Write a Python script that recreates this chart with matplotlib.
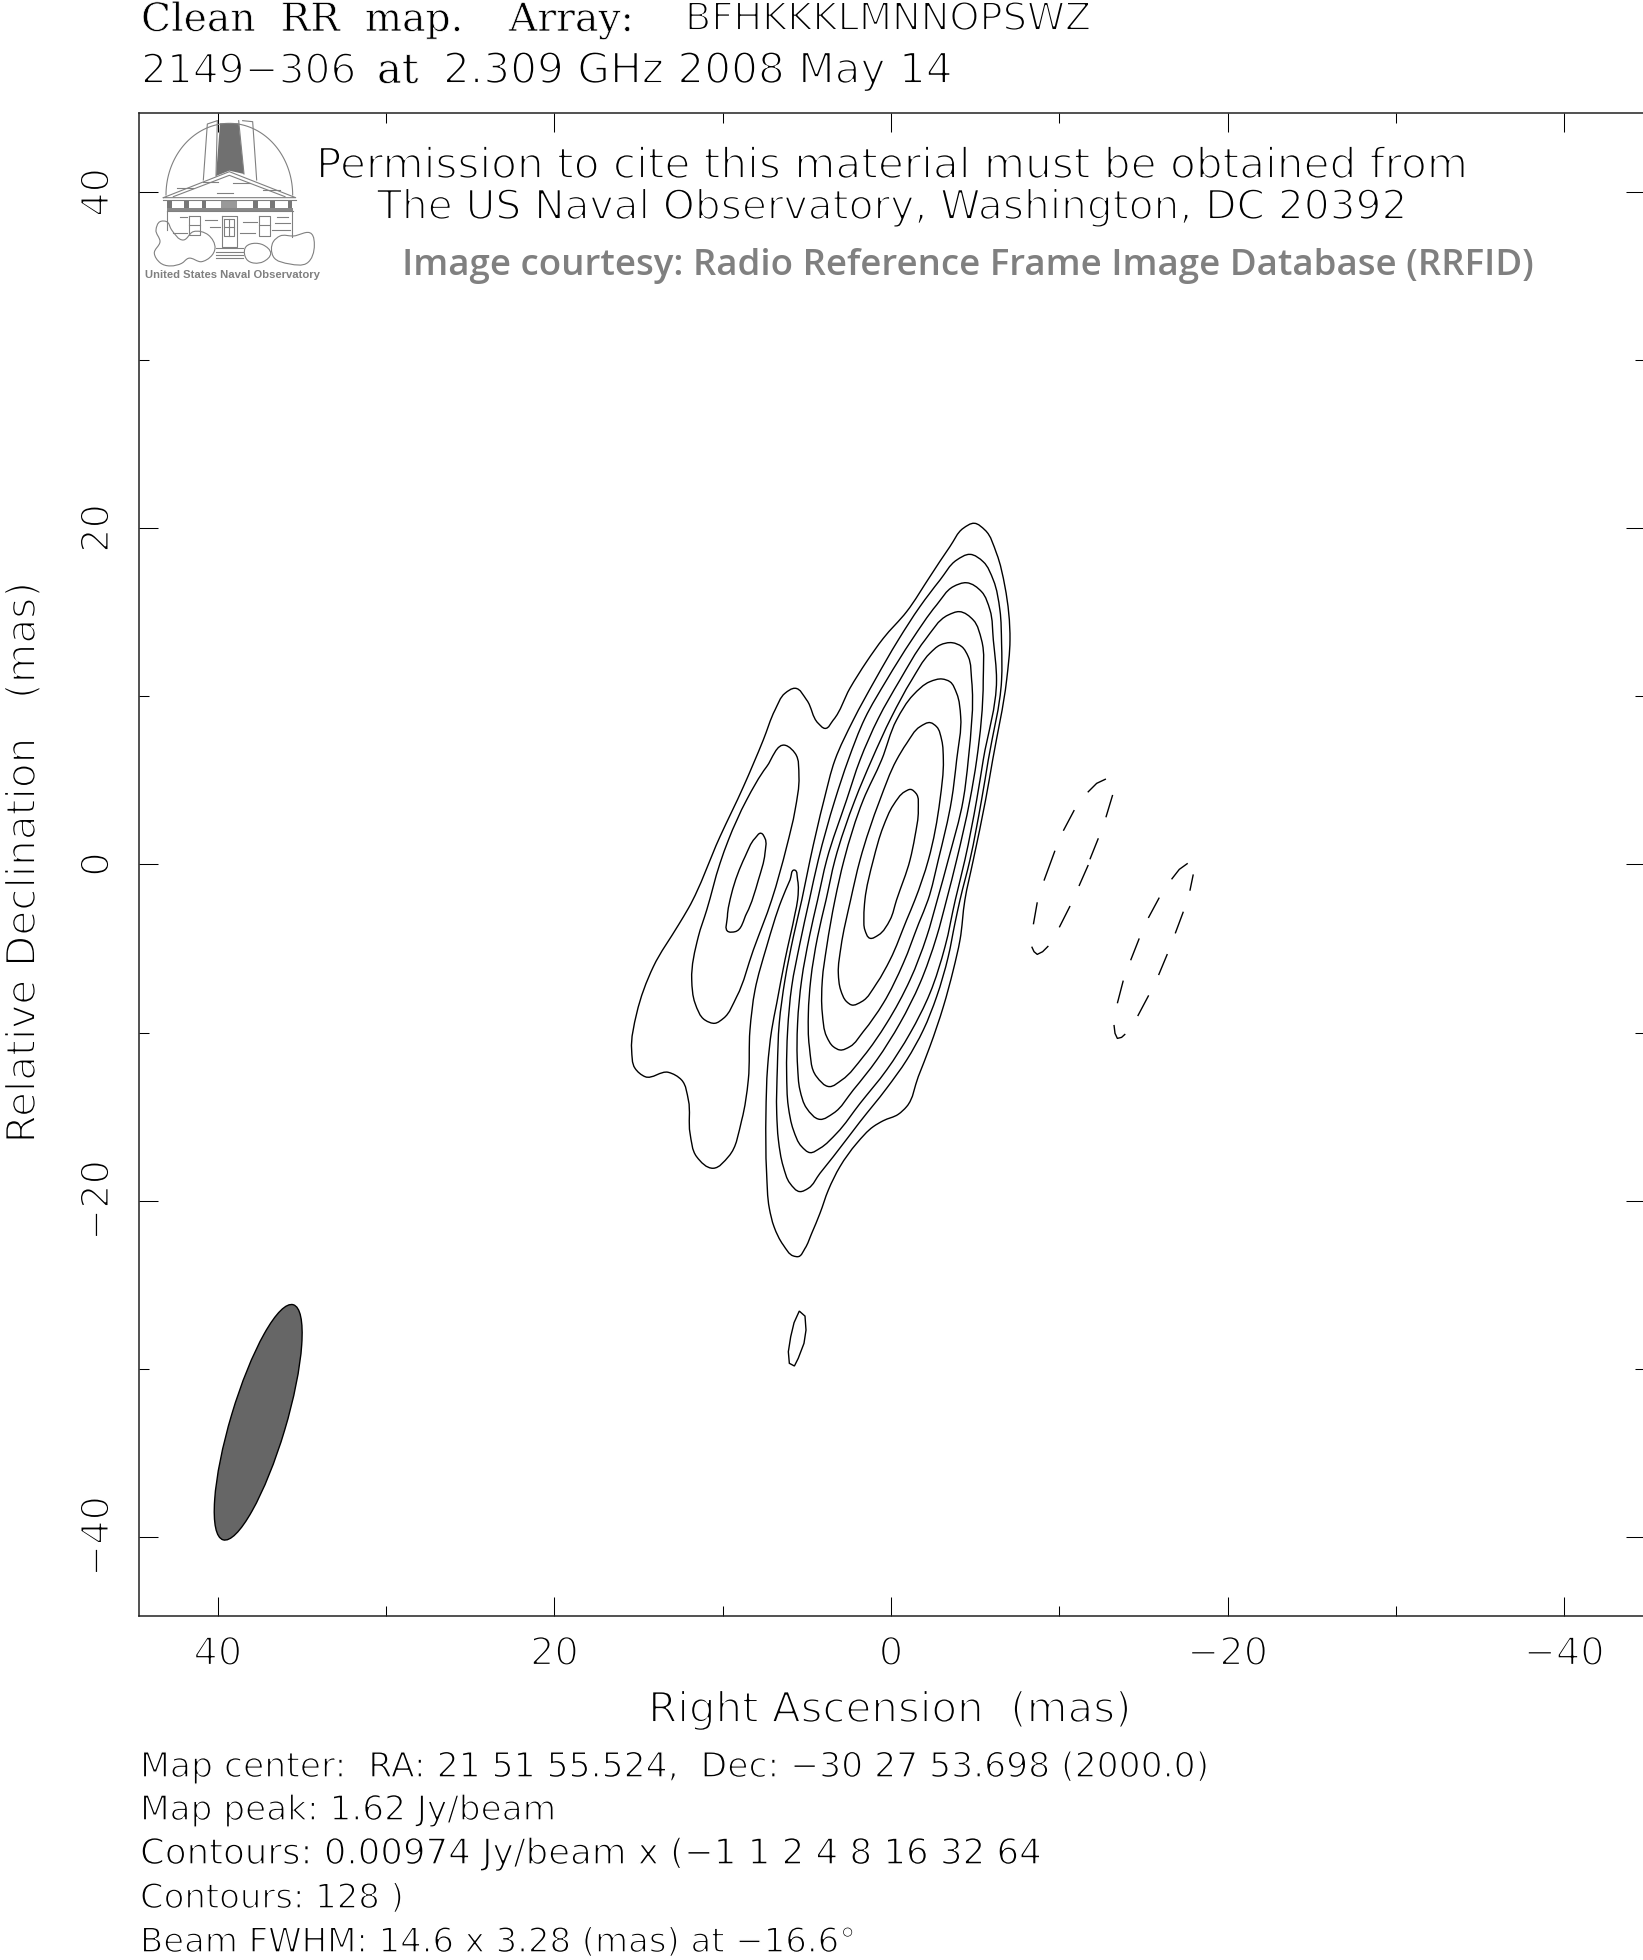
import numpy as np
import matplotlib
matplotlib.use("Agg")
import matplotlib.pyplot as plt
import matplotlib.patheffects as pe
from matplotlib.path import Path
from matplotlib.patches import PathPatch, Ellipse, Polygon

W, H = 1643, 1960

# ---- values (RA offset mas, Dec offset mas) ----
contour_1 = [(-4.95,20.31),(-4.29,20.01),(-3.50,18.92),(-2.31,17.13),(-0.93,15.05),(0.46,13.46),(1.45,12.07),(2.44,10.49),(3.43,8.60),(3.92,8.10),(4.32,8.40),(5.01,9.79),(5.70,10.49),(6.30,10.19),(6.89,9.20),(7.59,7.41),(8.77,4.63),(10.16,1.66),(12.04,-2.61),(12.63,-3.60),(14.12,-6.08),(15.11,-8.86),(15.41,-11.04),(15.21,-12.13),(14.61,-12.63),(13.23,-12.37),(12.44,-12.83),(12.04,-14.02),(11.94,-16.00),(11.55,-17.39),(10.56,-18.08),(9.66,-17.39),(8.87,-15.21),(8.48,-12.83),(8.38,-9.85),(8.08,-7.47),(7.39,-4.89),(6.50,-2.11),(6.00,-0.92),(5.74,-0.33),(5.55,-0.92),(5.55,-2.11),(5.70,-2.91),(6.30,-5.68),(6.79,-8.26),(7.09,-9.85),(7.33,-12.03),(7.43,-14.81),(7.39,-18.38),(7.23,-20.46),(6.95,-21.56),(6.40,-22.65),(5.80,-23.30),(5.51,-23.34),(5.11,-22.85),(4.71,-21.95),(4.22,-20.76),(3.72,-19.37),(3.03,-17.98),(2.04,-16.60),(1.05,-15.60),(0.46,-15.25),(-0.43,-14.87),(-0.93,-14.41),(-1.62,-12.63),(-2.31,-10.84),(-3.11,-8.46),(-3.70,-6.28),(-4.10,-4.49),(-4.39,-2.11),(-4.89,0.27),(-5.62,3.84),(-6.04,6.22),(-6.87,10.98),(-7.07,13.36),(-6.77,16.54),(-6.27,18.52),(-5.58,19.91)]
contour_2 = [(-4.69,18.46),(-3.90,18.12),(-2.91,16.93),(-1.72,15.35),(-0.43,13.36),(0.95,10.98),(2.24,8.60),(3.33,6.22),(3.98,3.84),(4.81,0.27),(5.30,-2.11),(5.80,-4.30),(6.30,-6.87),(6.64,-9.45),(6.75,-12.03),(6.79,-14.81),(6.69,-16.40),(6.40,-17.98),(6.00,-18.98),(5.41,-19.47),(4.91,-19.27),(4.22,-18.38),(3.43,-17.39),(1.84,-15.31),(0.26,-13.32),(-0.93,-11.64),(-1.92,-9.85),(-2.71,-7.87),(-3.40,-5.49),(-3.80,-3.50),(-4.10,-2.11),(-4.69,0.27),(-5.38,3.84),(-5.78,6.22),(-6.57,10.98),(-6.57,13.16),(-6.47,15.15),(-6.08,16.93),(-5.48,18.02)]
contour_3 = [(-4.49,16.77),(-3.70,16.54),(-2.71,15.45),(-1.23,13.36),(0.26,10.98),(1.55,8.70),(2.54,6.22),(3.33,3.84),(4.32,0.27),(4.85,-2.11),(5.41,-4.69),(5.90,-7.27),(6.14,-9.85),(6.20,-12.43),(6.10,-14.41),(5.80,-15.80),(5.31,-16.79),(4.81,-17.15),(4.22,-16.89),(3.23,-16.00),(1.84,-14.22),(0.26,-12.23),(-1.13,-10.05),(-2.31,-7.67),(-3.21,-4.89),(-3.82,-2.11),(-4.39,0.27),(-5.09,3.84),(-5.48,6.22),(-6.27,10.98),(-6.08,13.36),(-5.88,15.15),(-5.38,16.24)]
contour_4 = [(-4.06,15.05),(-3.40,14.85),(-2.02,13.36),(-0.53,10.98),(0.75,8.70),(1.84,6.22),(2.64,3.84),(3.82,0.27),(4.36,-2.11),(4.85,-4.30),(5.31,-6.87),(5.55,-9.45),(5.55,-12.03),(5.41,-13.42),(5.01,-14.51),(4.22,-15.17),(3.43,-14.81),(2.24,-13.42),(0.85,-11.64),(-0.53,-9.45),(-1.72,-7.07),(-2.71,-4.30),(-3.30,-2.11),(-3.90,0.27),(-4.69,3.84),(-5.09,6.22),(-5.48,10.98),(-5.38,13.36),(-4.89,14.55)]
contour_5 = [(-3.64,13.20),(-2.91,13.06),(-2.31,12.57),(-1.23,10.98),(-0.04,8.80),(1.15,6.22),(2.14,3.84),(3.33,0.27),(3.86,-2.11),(4.36,-4.30),(4.77,-6.87),(4.91,-8.86),(4.85,-10.84),(4.42,-12.63),(3.67,-13.22),(2.93,-12.83),(1.65,-11.44),(0.26,-9.45),(-1.13,-6.87),(-2.12,-4.30),(-2.75,-2.11),(-3.40,0.27),(-4.29,3.84),(-4.59,6.22),(-4.79,10.98),(-4.59,12.37),(-4.20,12.97)]
contour_6 = [(-3.05,11.04),(-2.31,10.88),(-1.32,10.09),(-0.33,8.60),(0.56,6.22),(1.65,3.84),(2.79,0.27),(3.33,-2.11),(3.82,-4.89),(4.08,-6.87),(4.08,-8.86),(3.82,-10.25),(3.43,-10.84),(3.03,-11.04),(2.44,-10.84),(1.65,-9.95),(0.46,-8.26),(-0.73,-5.88),(-1.65,-3.50),(-2.20,-2.11),(-2.81,0.27),(-3.60,3.84),(-3.90,6.22),(-4.14,8.80),(-3.90,10.19),(-3.50,10.88)]
contour_7 = [(-2.35,8.44),(-1.72,8.20),(-0.93,7.21),(-0.33,6.22),(0.66,3.84),(1.84,0.27),(2.40,-2.11),(2.97,-4.89),(3.13,-6.48),(2.99,-7.47),(2.64,-8.16),(2.34,-8.36),(1.74,-8.16),(0.85,-7.07),(0.06,-5.68),(-0.93,-3.30),(-1.42,-2.11),(-2.22,0.27),(-2.91,3.84),(-3.11,6.22),(-3.01,7.41),(-2.71,8.20)]
contour_8 = [(-1.17,4.47),(-0.83,4.34),(-0.14,3.54),(0.46,2.25),(1.05,0.27),(1.55,-2.11),(1.61,-3.10),(1.55,-3.90),(1.25,-4.39),(0.75,-4.20),(0.06,-3.30),(-0.33,-2.11),(-1.13,0.27),(-1.42,1.66),(-1.62,3.24),(-1.48,4.24)]
lobe_2 = [(6.26,7.09),(7.39,5.82),(8.58,3.84),(9.66,1.46),(10.16,0.07),(10.95,-2.71),(11.45,-4.30),(11.84,-6.87),(11.64,-8.26),(11.05,-9.26),(10.46,-9.45),(9.96,-9.16),(9.17,-7.87),(8.18,-5.09),(7.09,-2.11),(6.20,1.06),(5.70,3.24),(5.47,5.23),(5.70,6.62)]
lobe_3 = [(7.72,1.86),(7.49,1.56),(7.49,0.66),(7.88,-0.92),(8.58,-2.91),(9.27,-4.00),(9.66,-4.00),(9.72,-3.10),(9.47,-1.72),(8.67,0.47),(8.08,1.56)]
small_island = [(5.45,-26.58),(5.11,-26.88),(5.05,-27.71),(5.17,-28.50),(5.51,-29.39),(5.74,-29.85),(6.04,-29.69),(6.10,-29.00),(5.96,-28.11),(5.76,-27.27)]
negative_dashes_a = [
    [(-11.69,4.30),(-12.22,4.83),(-12.77,5.09)],
    [(-13.17,4.14),(-12.77,2.81)],
    [(-12.32,1.56),(-11.82,0.31)],
    [(-11.72,-0.03),(-11.17,-1.28)],
    [(-10.64,-2.47),(-10.00,-3.74)],
    [(-9.35,-4.85),(-9.01,-5.19),(-8.69,-5.35),(-8.50,-5.19),(-8.36,-4.89)],
    [(-8.46,-3.56),(-8.69,-2.25)],
    [(-9.09,-0.96),(-9.74,0.82)],
    [(-10.24,2.01),(-10.89,3.24)],
]
negative_dashes_b = [
    [(-16.67,-0.88),(-17.13,-0.29),(-17.63,0.07)],
    [(-17.96,-0.59),(-17.76,-1.56)],
    [(-17.37,-2.81),(-16.89,-4.10)],
    [(-16.42,-5.33),(-15.90,-6.58)],
    [(-15.31,-7.79),(-14.66,-9.02)],
    [(-13.92,-10.09),(-13.70,-10.29),(-13.45,-10.35),(-13.31,-10.05),(-13.25,-9.55)],
    [(-13.45,-8.26),(-13.80,-6.91)],
    [(-14.24,-5.70),(-14.75,-4.40)],
    [(-15.29,-3.18),(-15.94,-1.97)],
]
beam_center = (37.6, -33.2)
beam_major = 14.6
beam_minor = 3.28
beam_pa = 16.6
major_ticks = [40, 20, 0, -20, -40]
minor_ticks = [30, 10, -10, -30]

lines_bottom = [
    "Map center:  RA: 21 51 55.524,  Dec: \u221230 27 53.698 (2000.0)",
    "Map peak: 1.62 Jy/beam",
    "Contours: 0.00974 Jy/beam x (\u22121 1 2 4 8 16 32 64",
    "Contours: 128 )",
    "Beam FWHM: 14.6 x 3.28 (mas) at \u221216.6\u00b0",
]

# ---- figure ----
fig = plt.figure(figsize=(W/100, H/100), dpi=100, facecolor="white")
L, R, T, B = 138.7, 1644.5, 113.0, 1616.0
ax = fig.add_axes([L/W, 1-B/H, (R-L)/W, (B-T)/H])
ax.set_xlim((891-L)/16.83, (891-R)/16.83)
ax.set_ylim(-44.73, 44.73)

thin_big = [pe.Stroke(linewidth=1.4, foreground="white")]
thin_small = [pe.Stroke(linewidth=1.05, foreground="white")]
thin_serif = [pe.Stroke(linewidth=0.55, foreground="white")]


def smooth_path(points):
    p = np.asarray(points, float)
    n = len(p)
    verts = [p[0]]
    codes = [Path.MOVETO]

    def tangent(i):
        a, b, c = p[i-1], p[i], p[(i+1) % n]
        l0, l1 = np.linalg.norm(b-a), np.linalg.norm(c-b)
        t = (b-a)/l0*l1/(l0+l1) + (c-b)/l1*l0/(l0+l1)
        return t/np.linalg.norm(t)

    for i in range(n):
        j = (i+1) % n
        seg = np.linalg.norm(p[j]-p[i])
        verts += [p[i]+tangent(i)*seg/3, p[j]-tangent(j)*seg/3, p[j]]
        codes += [Path.CURVE4]*3
    return Path(verts, codes)


for c in (contour_1, contour_2, contour_3, contour_4, contour_5, contour_6,
          contour_7, contour_8, lobe_2, lobe_3):
    ax.add_patch(PathPatch(smooth_path(c), fc="none", ec="black", lw=1.0))
ax.add_patch(Polygon(small_island, closed=True, fc="none", ec="black", lw=1.0))
for dash in negative_dashes_a + negative_dashes_b:
    d = np.array(dash)
    ax.plot(d[:, 0], d[:, 1], color="black", lw=1.0, solid_capstyle="butt")
ax.add_patch(Ellipse(beam_center, beam_minor, beam_major, angle=beam_pa,
                     fc="#666666", ec="black", lw=1.0))

ax.set_xticks(major_ticks)
ax.set_xticks(minor_ticks, minor=True)
ax.set_yticks(major_ticks)
ax.set_yticks(minor_ticks, minor=True)
ax.set_xticklabels(["40", "20", "0", "\u221220", "\u221240"])
ax.set_yticklabels(["40", "20", "0", "\u221220", "\u221240"], rotation=90, va="center")
ax.tick_params(which="major", direction="in", length=13.7, width=0.75, top=True, right=True,
               labelsize=27.6, pad=15)
ax.tick_params(which="minor", direction="in", length=6.9, width=0.75, top=True, right=True)
ax.tick_params(axis="y", pad=16)
for t in ax.get_xticklabels() + ax.get_yticklabels():
    t.set_path_effects(thin_big)
for s in ax.spines.values():
    s.set_linewidth(1.1)
    s.set_color("#222222")


def label(px, py, s, size, family="DejaVu Sans", effects=thin_big, color="black", **kw):
    return fig.text(px/W, 1-py/H, s, fontsize=size, family=family, color=color,
                    path_effects=effects, va="baseline", **kw)


label(141, 31, "Clean  RR  map.", 28.3, family="DejaVu Serif", effects=thin_serif)
label(509, 31, "Array:", 28.3, family="DejaVu Serif", effects=thin_serif)
label(685, 30, "BFHKKKLMNNOPSWZ", 27.6)
label(141, 83, "2149\u2212306", 29.3)
label(377, 83, "at", 30.0, family="DejaVu Serif", effects=thin_serif)
label(443, 83, "2.309 GHz 2008 May 14", 30.4)
label(316, 178, "Permission to cite this material must be obtained from", 30.4)
label(377, 219, "The US Naval Observatory, Washington, DC 20392", 29.3)
fig.text(402/W, 1-275/H, "Image courtesy: Radio Reference Frame Image Database (RRFID)",
         fontsize=26.4, family="Open Sans", weight="semibold", color="#808080", va="baseline")
fig.text(889/W, 1-1722/H, "Right Ascension  (mas)", fontsize=30.2, family="DejaVu Sans",
         ha="center", va="baseline", path_effects=thin_big)
fig.text(35/W, 1-863/H, "Relative Declination   (mas)", fontsize=29.2, family="DejaVu Sans",
         rotation=90, ha="center", va="baseline", rotation_mode="anchor", path_effects=thin_big)

for text, base, size in zip(lines_bottom, [1777, 1820, 1864, 1908, 1952], [24.9, 24.7, 25.6, 24.4, 24.4]):
    label(140, base, text, size, effects=thin_small)

# ---- observatory logo (decoration, drawn in its own small pixel frame) ----
lg = fig.add_axes([130/W, 1-300/H, 500/W, 300/H])
lg.set_xlim(0, 1500)
lg.set_ylim(900, 0)
lg.axis("off")
lg.patch.set_alpha(0)
g = "#808080"
th = np.linspace(np.pi, 0, 80)
lg.plot(298+190*np.cos(th), 585-215*np.sin(th), color=g, lw=0.8)
lg.add_patch(Polygon([(270,370),(326,370),(342,522),(298,512),(258,528)], fc="#707070", ec="none"))
for seg in ([(220,540),(232,372),(262,362)], [(258,528),(262,362)],
            [(326,362),(342,522)], [(338,362),(368,365),(380,540)],
            [(100,593),(298,515),(497,593),(100,593)], [(130,590),(298,526),(465,590)],
            [(100,600),(497,600)], [(112,634),(490,634)],
            [(110,634),(110,690)], [(487,634),(487,712)],
            [(275,648),(320,648),(320,740),(275,740),(275,648)],
            [(283,656),(313,656),(313,708),(283,708),(283,656)],
            [(298,656),(298,708)], [(283,682),(313,682)],
            [(178,648),(210,648),(210,705),(178,705),(178,648)],
            [(388,648),(420,648),(420,708),(388,708),(388,648)],
            [(178,676),(210,676)], [(388,676),(420,676)],
            [(258,745),(340,745)], [(258,755),(340,755)], [(258,765),(340,765)], [(258,775),(340,775)],
            [(140,565),(190,565)], [(220,545),(265,545)], [(310,550),(360,550)], [(400,570),(450,570)],
            [(260,580),(310,580)], [(150,650),(170,650)], [(225,660),(260,660)], [(340,665),(380,665)],
            [(440,650),(475,650)], [(130,700),(170,700)], [(425,690),(480,690)],
            [(240,680),(270,680)], [(330,700),(375,700)], [(435,670),(480,670)]):
    s = np.array(seg)
    lg.plot(s[:, 0], s[:, 1], color=g, lw=0.8)
for xc in [118, 170, 222, 376, 428, 480]:
    lg.add_patch(Polygon([(xc-7,600),(xc+7,600),(xc+7,634),(xc-7,634)], fc="#777777", ec="none"))
lg.add_patch(Polygon([(272,604),(322,604),(322,634),(272,634)], fc="#999999", ec="none"))
lg.add_patch(Polygon([(112,624),(490,624),(490,634),(112,634)], fc="#888888", ec="none"))
for shrub in ([(78,690),(90,665),(110,665),(125,690),(160,720),(190,695),(235,705),(255,745),(215,785),(175,775),(155,790),(90,788),(73,760),(90,725)],
              [(430,725),(450,708),(490,708),(545,702),(553,735),(530,790),(480,792),(430,770)],
              [(345,745),(400,735),(422,760),(400,785),(350,778)]):
    lg.add_patch(PathPatch(smooth_path(shrub), fc="white", ec=g, lw=0.8))
lg.text(45, 835, "United States Naval Observatory", fontsize=8.1, family="Liberation Sans",
        weight="bold", color="#808080", va="baseline")

fig.savefig("out.png", dpi=100, facecolor="white")
